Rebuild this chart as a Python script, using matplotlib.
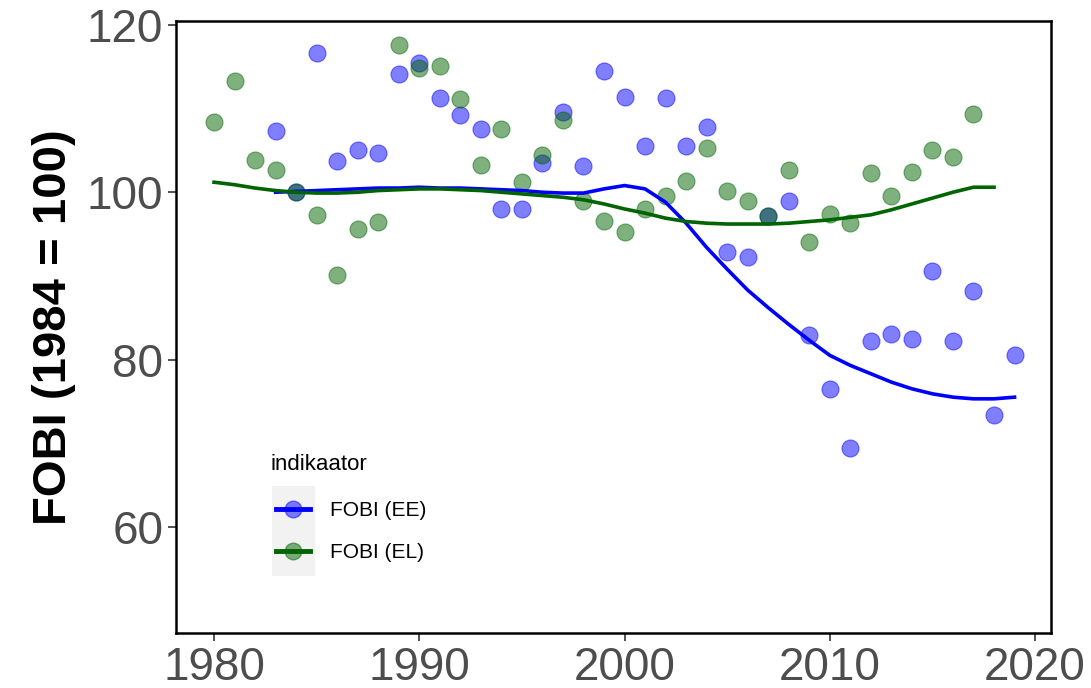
import matplotlib
matplotlib.use("Agg")
import matplotlib.pyplot as plt
from matplotlib.colors import to_rgba
from matplotlib.lines import Line2D
from matplotlib.patches import Rectangle

plt.rcParams['font.family'] = ['Liberation Sans', 'DejaVu Sans']

# FOBI (EE) yearly index values
ee_years = list(range(1983, 2020))
ee_values = [107.3, 100.0, 116.6, 103.7, 105.1, 104.7, 114.1, 115.4, 111.3, 109.2,
             107.6, 98.0, 98.0, 103.5, 109.6, 103.1, 114.5, 111.4, 105.5, 111.3,
             105.5, 107.8, 92.8, 92.3, 97.1, 98.9, 82.9, 76.5, 69.4, 82.2,
             83.1, 82.4, 90.6, 82.2, 88.2, 73.4, 80.5]

# FOBI (EL) yearly index values
el_years = list(range(1980, 2018))
el_values = [108.4, 113.3, 103.9, 102.7, 100.0, 97.3, 90.1, 95.6, 96.5, 117.6,
             114.8, 115.1, 111.2, 103.3, 107.6, 101.2, 104.4, 108.6, 99.0, 96.6,
             95.3, 98.0, 99.5, 101.3, 105.3, 100.1, 99.0, 97.1, 102.7, 94.1,
             97.4, 96.3, 102.3, 99.5, 102.4, 105.0, 104.2, 109.4]

# smoothed trend lines
ee_trend_years = list(range(1983, 2020))
ee_trend = [100.0, 100.1, 100.2, 100.3, 100.4, 100.5, 100.5, 100.6, 100.5, 100.5,
            100.4, 100.3, 100.2, 100.0, 99.9, 99.9, 100.4, 100.8, 100.4, 98.8,
            96.3, 93.4, 90.8, 88.3, 86.2, 84.2, 82.3, 80.5, 79.3, 78.3,
            77.3, 76.5, 75.9, 75.5, 75.3, 75.3, 75.5]

el_trend_years = list(range(1980, 2019))
el_trend = [101.2, 100.9, 100.5, 100.2, 100.0, 99.9, 99.9, 100.0, 100.2, 100.3,
            100.4, 100.4, 100.3, 100.2, 100.0, 99.8, 99.6, 99.4, 99.1, 98.6,
            98.0, 97.5, 96.9, 96.5, 96.3, 96.2, 96.2, 96.2, 96.3, 96.5,
            96.7, 97.0, 97.3, 97.9, 98.6, 99.3, 100.0, 100.6, 100.6]

labels = ['FOBI (EE)', 'FOBI (EL)']
colors = ['blue', 'darkgreen']

fig = plt.figure(figsize=(10.91, 6.88), dpi=100)
ax = fig.add_axes([0.161, 0.0799, 0.8024, 0.8899])

ax.scatter(ee_years, ee_values, s=150, color=colors[0], alpha=0.5, linewidths=0.8, zorder=2)
ax.scatter(el_years, el_values, s=150, color=colors[1], alpha=0.5, linewidths=0.8, zorder=2)
ax.plot(ee_trend_years, ee_trend, color=colors[0], lw=2.6, zorder=3)
ax.plot(el_trend_years, el_trend, color=colors[1], lw=2.6, zorder=3)

ax.set_xlim(1978.13, 2020.78)
ax.set_ylim(47.3, 120.5)
ax.set_xticks([1980, 1990, 2000, 2010, 2020])
ax.set_yticks([60, 80, 100, 120])
ax.tick_params(axis='both', labelsize=33, labelcolor='#4D4D4D', color='#333333',
               length=6, width=1.2, pad=3)
for sp in ax.spines.values():
    sp.set_linewidth(1.8)
    sp.set_color('black')

ax.set_ylabel('FOBI (1984 = 100)', fontsize=34, fontweight='bold', labelpad=8)

# legend: title as separate text, gray key background behind handles
fig.text(270 / 1091, 1 - 464 / 688, 'indikaator', fontsize=16, va='center', ha='left')
ax.add_patch(Rectangle((272 / 1091, 1 - 576 / 688), 43 / 1091, 90 / 688,
                       transform=fig.transFigure, facecolor='#F2F2F2',
                       edgecolor='none', zorder=4, clip_on=False))
handles = [Line2D([], [], color=c, lw=3.5, marker='o', markersize=12,
                  markerfacecolor=to_rgba(c, 0.5), markeredgecolor=to_rgba(c, 0.5))
           for c in colors]
leg = ax.legend(handles, labels, loc='upper left',
                bbox_to_anchor=(276 / 1091, 1 - 501 / 688), bbox_transform=fig.transFigure,
                frameon=False, fontsize=15, handlelength=1.65, handletextpad=0.95,
                labelspacing=1.1, borderpad=0, borderaxespad=0)
leg.set_zorder(5)

fig.savefig('out.png', dpi=100)
